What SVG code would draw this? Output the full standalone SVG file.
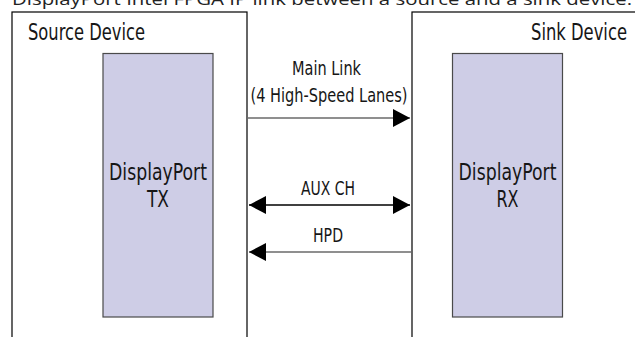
<svg xmlns="http://www.w3.org/2000/svg" width="635" height="337" viewBox="0 0 635 337">
  <style>
    .device { fill: #ffffff; stroke: #000000; stroke-width: 1.2; }
    .core { fill: #cecde6; stroke: #4a4a4a; stroke-width: 1.2; }
    .lbl { font-family: "DejaVu Sans Condensed", "Liberation Sans Narrow", "Liberation Sans", sans-serif; fill: #161616; }
    .big { font-size: 23px; }
    .mid { font-size: 20px; }
    .cap { font-family: "Open Sans", "DejaVu Sans", sans-serif; font-size: 17px; fill: #222222; }
    .link { fill: none; stroke-width: 1.6; }
    .grey { stroke: #6a6a6a; }
    .dark { stroke: #000000; }
  </style>
  <defs>
    <marker id="head" viewBox="0 0 17 18" refX="17" refY="9" markerWidth="17" markerHeight="18" markerUnits="userSpaceOnUse" orient="auto-start-reverse">
      <path d="M0,0 L17,9 L0,18 Z" fill="#000000"/>
    </marker>
  </defs>

  <rect width="635" height="337" fill="#ffffff"/>

  <!-- figure caption, running off the top edge -->
  <text class="cap" x="12" y="5" textLength="620" lengthAdjust="spacingAndGlyphs">DisplayPort Intel FPGA IP link between a source and a sink device.</text>

  <g id="source-device">
    <rect class="device" x="12" y="12" width="235" height="340"/>
    <text class="lbl big" x="28" y="40" textLength="117" lengthAdjust="spacingAndGlyphs">Source Device</text>
  </g>

  <g id="sink-device">
    <rect class="device" x="412" y="12" width="240" height="340"/>
    <text class="lbl big" x="531" y="40" textLength="96" lengthAdjust="spacingAndGlyphs">Sink Device</text>
  </g>

  <g id="displayport-tx">
    <rect class="core" x="103" y="53.5" width="110" height="263.5"/>
    <text class="lbl big" x="109" y="180" textLength="98" lengthAdjust="spacingAndGlyphs">DisplayPort</text>
    <text class="lbl big" x="147" y="207" textLength="22" lengthAdjust="spacingAndGlyphs">TX</text>
  </g>

  <g id="displayport-rx">
    <rect class="core" x="452.5" y="53.5" width="110" height="263.5"/>
    <text class="lbl big" x="458.5" y="180" textLength="98" lengthAdjust="spacingAndGlyphs">DisplayPort</text>
    <text class="lbl big" x="496.5" y="207" textLength="22" lengthAdjust="spacingAndGlyphs">RX</text>
  </g>

  <g id="connectors">
    <!-- Main Link: source to sink -->
    <line class="link grey" x1="247" y1="118" x2="410" y2="118" marker-end="url(#head)"/>
    <text class="lbl mid" x="292" y="75" textLength="69" lengthAdjust="spacingAndGlyphs">Main Link</text>
    <text class="lbl mid" x="250.5" y="102" textLength="157" lengthAdjust="spacingAndGlyphs">(4 High-Speed Lanes)</text>

    <!-- AUX CH: bidirectional -->
    <line class="link dark" x1="249" y1="205" x2="410" y2="205" marker-start="url(#head)" marker-end="url(#head)"/>
    <text class="lbl mid" x="301" y="195" textLength="54" lengthAdjust="spacingAndGlyphs">AUX CH</text>

    <!-- HPD: sink to source -->
    <line class="link grey" x1="411" y1="252" x2="249" y2="252" marker-end="url(#head)"/>
    <text class="lbl mid" x="313" y="242" textLength="30" lengthAdjust="spacingAndGlyphs">HPD</text>
  </g>
</svg>
